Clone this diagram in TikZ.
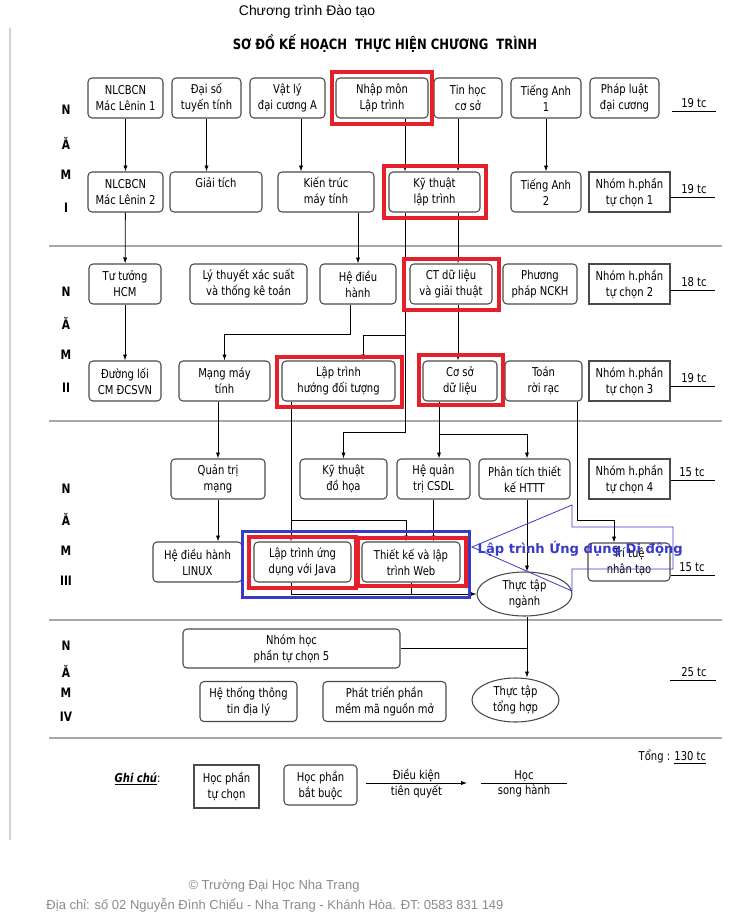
\documentclass[tikz,border=0pt]{standalone}
\usepackage{fontspec}
\setmainfont{DejaVu Sans}
\newfontfamily\boxfont[FakeStretch=0.82]{DejaVu Sans}
\newfontfamily\webfont{Liberation Sans}
\usetikzlibrary{arrows.meta,shapes.geometric}
\definecolor{bd}{HTML}{4A4A4A}
\definecolor{rd}{HTML}{E5202A}
\definecolor{bl}{HTML}{3A3AC8}
\definecolor{sep}{HTML}{A8A8A8}
\definecolor{foot}{HTML}{8A8A8A}

\begin{document}
\begin{tikzpicture}[x=0.0265cm,y=-0.0265cm,
	box/.style={draw=bd,line width=0.8pt,rounded corners=3pt,fill=white,align=center,inner sep=1pt,minimum height=40*0.0265cm,font=\boxfont\fontsize{9.2}{12}\selectfont},
	sbox/.style={box,sharp corners},
	oval/.style={box,sharp corners,ellipse,inner sep=0pt,minimum height=44*0.0265cm},
	wd/.style={minimum width=#1*0.0265cm},
	arr/.style={-{Latex[length=4.5pt,width=3.2pt]},line width=0.6pt},
	link/.style={line width=0.6pt},
	redbox/.style={draw=rd,line width=3pt},
	sepline/.style={draw=sep,line width=1.1pt},
	yr/.style={font=\boxfont\bfseries\fontsize{9.8}{11}\selectfont},
	cr/.style={font=\boxfont\fontsize{9.2}{11}\selectfont}]
				\useasboundingbox (0,0) rectangle (756,917);
				\draw[draw=black!18,line width=1.5pt] (10,28) -- (10,840);
				
				\node (top) at (307,12) {\webfont\fontsize{10.5}{12}\selectfont Chương trình Đào tạo};
				\node (title) at (385,44) {\boxfont\bfseries\fontsize{10.7}{12}\selectfont SƠ ĐỒ KẾ HOẠCH\ \ THỰC HIỆN CHƯƠNG\ \ TRÌNH};
				
				\foreach \y in {246,421,620,738}
					\draw[sepline] (49,\y) -- (722,\y);
				
				% nam I
				\foreach \t/\y [count=\i] in {N/110,Ă/143,M/175,I/208}
					\node[yr] (yA\i) at (66,\y) {\t};
				\node[box,wd=75] (ml1) at (125.5,98) {NLCBCN\\Mác Lênin 1};
				\node[box,wd=69] (daiso) at (206.5,98) {Đại số\\tuyến tính};
				\node[box,wd=75] (vatly) at (287.5,98) {Vật lý\\đại cương A};
				\node[box,wd=92] (nhapmon) at (382,98) {Nhập môn\\Lập trình};
				\node[box,wd=68] (tinhoc) at (468,98) {Tin học\\cơ sở};
				\node[box,wd=70] (ta1) at (546,98) {Tiếng Anh\\1};
				\node[box,wd=69] (phapluat) at (624.5,98) {Pháp luật\\đại cương};
				
				\node[box,wd=75] (ml2) at (125.5,192) {NLCBCN\\Mác Lênin 2};
				\node[box,wd=92] (giaitich) at (216,192) {Giải tích\\\phantom{g}};
				\node[box,wd=96] (kientruc) at (326,192) {Kiến trúc\\máy tính};
				\node[box,wd=91] (ktlt) at (434.5,192) {Kỹ thuật\\lập trình};
				\node[box,wd=70] (ta2) at (546,192) {Tiếng Anh\\2};
				\node[sbox,wd=81] (tc1) at (629.5,192) {Nhóm h.phần\\tự chọn 1};
				
				% nam II
				\foreach \t/\y [count=\i] in {N/292,Ă/323,M/355,II/388}
					\node[yr] (yB\i) at (66,\y) {\t};
				\node[box,wd=72] (tutuong) at (125,284) {Tư tưởng\\HCM};
				\node[box,wd=117] (xacsuat) at (248.5,284) {Lý thuyết xác suất\\và thống kê toán};
				\node[box,wd=76] (hdh) at (358,284) {Hệ điều\\hành};
				\node[box,wd=82] (ctdl) at (451,284) {CT dữ liệu\\và giải thuật};
				\node[box,wd=74] (nckh) at (540,284) {Phương\\pháp NCKH};
				\node[sbox,wd=81] (tc2) at (629.5,284) {Nhóm h.phần\\tự chọn 2};
				
				\node[box,wd=72] (duongloi) at (125,381) {Đường lối\\CM ĐCSVN};
				\node[box,wd=91] (mangmt) at (224.5,381) {Mạng máy\\tính};
				\node[box,wd=113] (lthdt) at (338.5,381) {Lập trình\\hướng đối tượng};
				\node[box,wd=74] (csdl) at (460,381) {Cơ sở\\dữ liệu};
				\node[box,wd=77] (toanrr) at (543.5,381) {Toán\\rời rạc};
				\node[sbox,wd=81] (tc3) at (629.5,381) {Nhóm h.phần\\tự chọn 3};
				
				% nam III
				\foreach \t/\y [count=\i] in {N/489,Ă/519,M/551,III/581}
					\node[yr] (yC\i) at (66,\y) {\t};
				\node[box,wd=94] (qtmang) at (218,479) {Quản trị\\mạng};
				\node[box,wd=87] (dohoa) at (343.5,479) {Kỹ thuật\\đồ họa};
				\node[box,wd=73] (hqt) at (433.5,479) {Hệ quản\\trị CSDL};
				\node[box,wd=91] (pttk) at (524.5,479) {Phân tích thiết\\kế HTTT};
				\node[sbox,wd=81] (tc4) at (629.5,479) {Nhóm h.phần\\tự chọn 4};
				
				\node[box,wd=89] (linux) at (197.5,562) {Hệ điều hành\\LINUX};
				\node[box,wd=97] (java) at (302.5,562) {Lập trình ứng\\dụng với Java};
				\node[box,wd=98] (web) at (411,562) {Thiết kế và lập\\trình Web};
				\node[oval,wd=95] (ttnganh) at (524.5,594) {Thực tập\\ngành};
				\node[box,wd=82,minimum height=38*0.0265cm] (ttnt) at (629,562) {Trí tuệ\\nhân tạo};
				
				% nam IV
				\foreach \t/\y [count=\i] in {N/646,Ă/671,M/693,IV/717}
					\node[yr] (yD\i) at (66,\y) {\t};
				\node[box,wd=217,minimum height=39*0.0265cm] (tc5) at (291.5,648.5) {Nhóm học\\phần tự chọn 5};
				\node[box,wd=97] (gis) at (248.5,701.5) {Hệ thống thông\\tin địa lý};
				\node[box,wd=123] (mnm) at (384.5,701.5) {Phát triển phần\\mềm mã nguồn mở};
				\node[oval,wd=87] (tttonghop) at (515.5,700) {Thực tập\\tổng hợp};
				
				% tin chi
				\node[cr] (cr1) at (694,103) {19 tc};
				\draw[link] (672,111) -- (716,111);
				\node[cr] (cr2) at (694,189) {19 tc};
				\draw[link] (tc1.east |- 0,197) -- (715,197);
				\node[cr] (cr3) at (694,282) {18 tc};
				\draw[link] (tc2.east |- 0,290) -- (715,290);
				\node[cr] (cr4) at (694,378) {19 tc};
				\draw[link] (tc3.east |- 0,386) -- (715,386);
				\node[cr] (cr5) at (692,472) {15 tc};
				\draw[link] (tc4.east |- 0,480) -- (715,480);
				\node[cr] (cr6) at (692,567) {15 tc};
				\draw[link] (ttnt.east |- 0,575) -- (715,575);
				\node[cr] (cr7) at (694,672) {25 tc};
				\draw[link] (670,680) -- (716,680);
				
				% lanes
				\coordinate (xVL) at (301,0);
				\coordinate (xA) at (405,0);
				\coordinate (xB) at (458,0);
				\coordinate (xC) at (350,0);
				\coordinate (xD) at (291,0);
				\coordinate (xE) at (406,0);
				\coordinate (xG) at (439,0);
				\coordinate (xH) at (527,0);
				\coordinate (xJ) at (577,0);
				\coordinate (xK) at (614,0);
				\coordinate (kLT) at (363,335);
				\coordinate (kMM) at (0,334);
				\coordinate (kDH) at (0,432);
				\coordinate (kPT) at (0,434);
				\coordinate (kWB) at (0,520);
				
				\draw[arr] (ml1) -- (ml2);
				\draw[arr] (ml2) -- (tutuong);
				\draw[arr] (tutuong) -- (duongloi);
				\draw[arr] (daiso) -- (daiso |- giaitich.north);
				\draw[arr] (vatly.south -| xVL) -- (kientruc.north -| xVL);
				\draw[arr] (kientruc.south -| hdh) -- (hdh);
				\draw[arr] (nhapmon.south -| xA) -- (ktlt.north -| xA);
				\draw[arr] (tinhoc.south -| xB) -- (ktlt.north -| xB);
				\draw[arr] (ta1) -- (ta2);
				\draw[arr] (ktlt.south -| xB) -- (ctdl.north -| xB);
				\draw[arr] (ctdl.south -| xB) -- (csdl.north -| xB);
				\draw[arr] (ktlt.south -| xA) |- (kLT) -- (kLT |- lthdt.north);
				\draw[arr] (ktlt.south -| xA) -- (xA |- kDH) -| (dohoa);
				\draw[arr] (hdh.south -| xC) -- (xC |- kMM) -| (mangmt);
				\draw[arr] (mangmt.south -| qtmang) -- (qtmang);
				\draw[arr] (qtmang) -- (qtmang |- linux.north);
				\draw[arr] (lthdt.south -| xD) -- (java.north -| xD);
				\draw[arr] (xD |- kWB) -| (xE |- web.north);
				\draw[arr] (java.south -| xD) |- (ttnganh.west);
				\draw[link] (web) -- (web |- ttnganh.west);
				\draw[arr] (csdl.south -| xG) -- (hqt.north -| xG);
				\draw[arr] (xG |- kPT) -| (xH |- pttk.north);
				\draw[arr] (hqt) -- (hqt |- web.north);
				\draw[arr] (pttk.south -| xH) -- (ttnganh.north -| xH);
				\draw[arr] (ttnganh.south -| xH) -- (tttonghop.north -| xH);
				\draw[link] (tc5.east) -- (tc5.east -| xH);
				\draw[arr] (toanrr.south -| xJ) -- (xJ |- kWB) -| (xK |- ttnt.north);
				
				% khung
				\draw[draw=bl,line width=2pt] ([shift={(-11,-10)}]java.north west) rectangle ([shift={(9,15)}]web.south east);
				\draw[redbox] ([shift={(-3,-5)}]nhapmon.north west) rectangle ([shift={(3,5)}]nhapmon.south east);
				\draw[redbox] ([shift={(-4,-5)}]ktlt.north west) rectangle ([shift={(5,5)}]ktlt.south east);
				\draw[redbox] ([shift={(-5,-4)}]ctdl.north west) rectangle ([shift={(6,5)}]ctdl.south east);
				\draw[redbox] ([shift={(-4,-3)}]lthdt.north west) rectangle ([shift={(6,5)}]lthdt.south east);
				\draw[redbox] ([shift={(-3,-5)}]csdl.north west) rectangle ([shift={(5,3)}]csdl.south east);
				\draw[redbox] ([shift={(-4,-4)}]java.north west) rectangle ([shift={(4,5)}]java.south east);
				\draw[redbox] ([shift={(-3,-3)}]web.north west) rectangle ([shift={(5,3)}]web.south east);
				
				\draw[draw=bl,line width=0.6pt] (472,547) -- (572,505) -- (572,527) -- (673,527) -- (673,569) -- (572,569) -- (572,591) -- cycle;
				\node[anchor=west,text=bl,font=\bfseries\fontsize{9.9}{11}\selectfont] (mob) at (473,549) {Lập trình Ứng dụng Di động};
				
				% ghi chu
				\node[cr,anchor=west] (tong) at (634,757) {Tổng : \underline{130 tc}};
				\node[cr,anchor=west] (gc) at (110,779) {\underline{\bfseries\itshape Ghi chú}:};
				\node[sbox,wd=65,minimum height=43*0.0265cm] (lgtc) at (226.5,786.5) {Học phần\\tự chọn};
				\node[box,wd=73] (lgbb) at (320.5,785) {Học phần\\bắt buộc};
				\coordinate (dkA) at (366,783);
				\coordinate (dkB) at (467,783);
				\draw[arr] (dkA) -- (dkB) node[cr,midway,above,inner sep=1pt] (dk1) {Điều kiện} node[cr,midway,below,inner sep=1pt] (dk2) {tiên quyết};
				\coordinate (shA) at (481,783);
				\coordinate (shB) at (567,783);
				\draw[link] (shA) -- (shB) node[cr,midway,above,inner sep=1pt] (sh1) {Học} node[cr,midway,below,inner sep=1pt] (sh2) {song hành};
				
				\node[text=foot] (copy) at (274,886) {\webfont\fontsize{9.8}{12}\selectfont © Trường Đại Học Nha Trang};
				\node[text=foot] (addr) at (275,905) {\webfont\fontsize{9.8}{12}\selectfont Địa chỉ: số 02 Nguyễn Đình Chiểu - Nha Trang - Khánh Hòa. ĐT: 0583 831 149};
			\end{tikzpicture}
\end{document}
